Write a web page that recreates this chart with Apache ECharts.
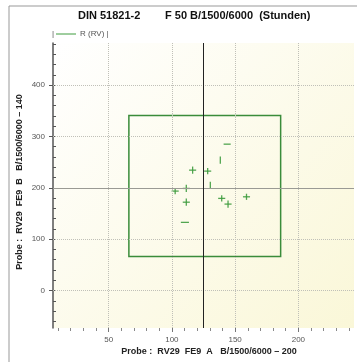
<!DOCTYPE html>
<html><head><meta charset="utf-8">
<script src="https://cdn.jsdelivr.net/npm/echarts@6/dist/echarts.min.js"></script>
<style>html,body{margin:0;padding:0;background:#fff}#c{width:357px;height:362px}</style>
</head><body><div id="c"></div>
<script>
const titleLeft = 'DIN 51821-2';
const titleRight = 'F 50 B/1500/6000  (Stunden)';
const xAxisTitle = 'Probe :  RV29  FE9  A   B/1500/6000 \u2013 200';
const yAxisTitle = 'Probe :  RV29  FE9  B   B/1500/6000 \u2013 140';
const legendName = 'R (RV)';
const xRange = [6, 244];
const yRange = [-73, 482];
const xTickLabels = [50, 100, 150, 200];
const yTickLabels = [0, 100, 200, 300, 400];
const xMinorTicks = [10, 20, 30, 40, 60, 70, 80, 90, 110, 120, 130, 140, 160, 170, 180, 190, 210, 220, 230, 240];
const yMinorTicks = [-60, -40, -20, 20, 40, 60, 80, 120, 140, 160, 180, 220, 240, 260, 280, 320, 340, 360, 380, 420, 440, 460, 480];
const xGrid = [50, 100, 150, 200];
const yGrid = [0, 100, 300, 400];
const refX = 125;
const refY = 200;
const boxX = [66, 186];
const boxY = [66, 341];
const ptX = [143.7, 138.3, 116.4, 128.3, 130.4, 102.6, 111.4, 111.4, 110.3, 139.4, 144.4, 159.0];
const ptY = [285, 254, 234.4, 232.5, 205, 193.6, 198.8, 172, 132.7, 179.4, 168.3, 182.5];
const errX = [2.8, 0, 2.8, 2.8, 0, 2.8, 2.8, 2.8, 3.2, 2.8, 2.8, 2.8];
const errY = [0, 7, 7, 6, 7, 6, 7, 7, 0, 6, 7, 6];

const green = '#3f9c3f';
const pts = ptX.map((x, i) => [x, ptY[i], errX[i], errY[i]]);

const chart = echarts.init(document.getElementById('c'), null, {renderer: 'canvas'});
const grid = {left: 53, right: 3, top: 43, bottom: 34, show: true, borderWidth: 0,
  backgroundColor: {type: 'linear', x: 0, y: 0, x2: 1, y2: 1,
    colorStops: [{offset: 0, color: '#ffffff'}, {offset: 1, color: '#faf7d8'}]}};
const labelFont = {color: '#555', fontSize: 8, fontFamily: 'Liberation Sans'};
const gridLine = {color: '#c0c0b8', width: 1, type: 'dotted'};
chart.setOption({
  animation: false,
  grid: grid,
  xAxis: [
    {type: 'value', min: xRange[0], max: xRange[1], position: 'bottom',
      axisLine: {show: false, onZero: false}, splitLine: {show: false},
      axisTick: {show: true, customValues: xTickLabels, length: 4, lineStyle: {color: '#777'}},
      axisLabel: Object.assign({customValues: xTickLabels, margin: 8}, labelFont)},
    {type: 'value', min: xRange[0], max: xRange[1], position: 'bottom',
      axisLine: {show: false, onZero: false}, splitLine: {show: false}, axisLabel: {show: false},
      axisTick: {show: true, customValues: xMinorTicks, length: 3, lineStyle: {color: '#888'}}}
  ],
  yAxis: [
    {type: 'value', min: yRange[0], max: yRange[1], position: 'left',
      axisLine: {show: true, onZero: false, lineStyle: {color: '#555', width: 1.5}}, splitLine: {show: false},
      axisTick: {show: true, customValues: yTickLabels, length: 4, lineStyle: {color: '#555'}},
      axisLabel: Object.assign({customValues: yTickLabels, margin: 8}, labelFont)},
    {type: 'value', min: yRange[0], max: yRange[1], position: 'left',
      axisLine: {show: false, onZero: false}, splitLine: {show: false}, axisLabel: {show: false},
      axisTick: {show: true, inside: true, customValues: yTickLabels.concat(yMinorTicks), length: 3, lineStyle: {color: '#555'}}}
  ],
  series: [
    {
      type: 'line', xAxisIndex: 0, yAxisIndex: 0, data: [], silent: true,
      markLine: {
        silent: true, symbol: 'none', label: {show: false}, lineStyle: gridLine,
        data: xGrid.map(v => ({xAxis: v})).concat(yGrid.map(v => ({yAxis: v})))
      }
    },
    {
      type: 'custom', xAxisIndex: 0, yAxisIndex: 0, data: pts,
      renderItem: function (params, api) {
        const x = api.value(0), y = api.value(1), ex = api.value(2), ey = api.value(3);
        const style = {stroke: green, lineWidth: 1.3, opacity: 0.9};
        const ch = [];
        if (ex > 0) {
          const a = api.coord([x - ex, y]), b = api.coord([x + ex, y]);
          ch.push({type: 'line', shape: {x1: a[0], y1: a[1], x2: b[0], y2: b[1]}, style: style});
        }
        if (ey > 0) {
          const a = api.coord([x, y - ey]), b = api.coord([x, y + ey]);
          ch.push({type: 'line', shape: {x1: a[0], y1: a[1], x2: b[0], y2: b[1]}, style: style});
        }
        return {type: 'group', children: ch};
      },
      markLine: {
        silent: true, symbol: 'none', label: {show: false},
        data: [{yAxis: refY, lineStyle: {color: '#9a9a94', type: 'solid', width: 1}},
               {xAxis: refX, lineStyle: {color: '#222', type: 'solid', width: 1}}]
      },
      markArea: {
        silent: true,
        itemStyle: {color: 'rgba(0,0,0,0)', borderColor: '#3a8c3a', borderWidth: 1.5},
        data: [[{coord: [boxX[0], boxY[1]]}, {coord: [boxX[1], boxY[0]]}]]
      }
    }
  ],
  graphic: [
    {type: 'line', shape: {x1: 9, y1: 6, x2: 357, y2: 6}, style: {stroke: '#999', lineWidth: 1}},
    {type: 'line', shape: {x1: 9, y1: 6, x2: 9, y2: 362}, style: {stroke: '#999', lineWidth: 1}},
    {type: 'text', x: 78, y: 16, style: {text: titleLeft, font: 'bold 11px "Liberation Sans"', fill: '#111', textVerticalAlign: 'middle'}},
    {type: 'text', x: 165, y: 16, style: {text: titleRight, font: 'bold 11px "Liberation Sans"', fill: '#111', textVerticalAlign: 'middle'}},
    {type: 'text', x: 52, y: 34, style: {text: '|', font: '8px "Liberation Sans"', fill: '#555', textVerticalAlign: 'middle'}},
    {type: 'line', shape: {x1: 56, y1: 34, x2: 76, y2: 34}, style: {stroke: green, lineWidth: 1}},
    {type: 'text', x: 80, y: 34, style: {text: legendName + ' |', font: '8px "Liberation Sans"', fill: '#555', textVerticalAlign: 'middle'}},
    {type: 'text', x: 209, y: 352, style: {text: xAxisTitle, font: 'bold 9px "Liberation Sans"', fill: '#222', textAlign: 'center', textVerticalAlign: 'middle'}},
    {type: 'text', x: 20, y: 182, rotation: Math.PI / 2, style: {text: yAxisTitle, font: 'bold 9px "Liberation Sans"', fill: '#222', textAlign: 'center', textVerticalAlign: 'middle'}}
  ]
});
</script></body></html>
